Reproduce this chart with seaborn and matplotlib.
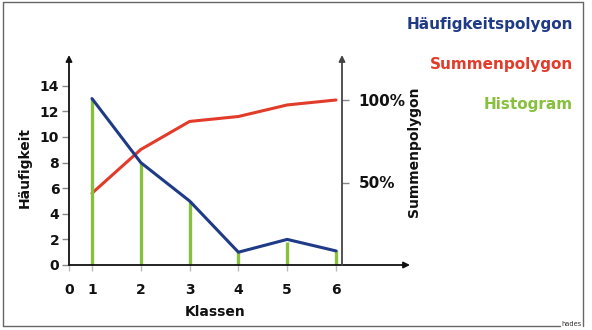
import numpy as np
import pandas as pd
import matplotlib
matplotlib.use("Agg")
import matplotlib.pyplot as plt
from matplotlib.lines import Line2D
import seaborn as sns

# ---- data ----
klassen = [1, 2, 3, 4, 5, 6]
haeufigkeit = [13, 8, 5, 1, 2, 1.1]
histogram = [13, 8, 5, 1, 1.8, 1.2]
summen_pct = [43.5, 70, 87, 90, 97, 100]
x_tick_labels = ["0", "1", "2", "3", "4", "5", "6"]
y_ticks = [0, 2, 4, 6, 8, 10, 12, 14]
pct_ticks = [50, 100]
pct_labels = ["50%", "100%"]

NAVY = "#1f3a86"
RED = "#e23b2a"
GREEN = "#86c03c"

sns.set_theme(style="white")
plt.rcParams["font.family"] = ["DejaVu Sans"]
plt.rcParams["font.weight"] = "bold"

W, H = 592, 330
fig = plt.figure(figsize=(W / 100, H / 100), dpi=100)

def fx(x):
    return x / W

def fy(y):
    return 1 - y / H

# axes in pixel geometry
L, R, T, B = 69, 410, 55, 265
ax = fig.add_axes([fx(L), fy(B), fx(R) - fx(L), fy(T) - fy(B)])
ax.set_facecolor("none")

ppu = 48.8
x_left = 1 - (92 - L) / ppu
x_right = 1 + (R - 92) / ppu
ax.set_xlim(x_left, x_right)
ax.set_ylim(0, (B - T) / 12.8)

df = pd.DataFrame({"k": klassen, "h": haeufigkeit, "s": summen_pct, "hist": histogram})

ax.vlines(df["k"], 0, df["hist"], color=GREEN, lw=2.4, zorder=2)

ax2 = ax.twinx()
ax2.set_ylim(0, (B - T) / 1.65)
sns.lineplot(data=df, x="k", y="s", ax=ax2, color=RED, lw=2.2, zorder=3)
ax2.set_zorder(1)
ax.set_zorder(2)
sns.lineplot(data=df, x="k", y="h", ax=ax, color=NAVY, lw=2.2, zorder=4)

for a in (ax, ax2):
    for s in a.spines.values():
        s.set_visible(False)
    a.set_xlabel("")
    a.set_ylabel("")

FS = 10
# ticks
ax.set_xticks([x_left] + klassen)
ax.set_xticklabels(x_tick_labels, fontsize=FS, fontweight="bold")
ax.set_yticks(y_ticks)
ax.set_yticklabels([str(v) for v in y_ticks], fontsize=FS, fontweight="bold")
ax.tick_params(axis="x", bottom=True, length=4, width=1, color="#bbbbbb", pad=9, labelcolor="#111111")
ax.tick_params(axis="y", left=True, length=5, width=1, color="#888888", pad=2, labelcolor="#111111")
ax.xaxis.get_major_ticks()[0].tick1line.set_color("#222222")

rx = (342 - L) / (R - L)
ax2.set_yticks(pct_ticks)
ax2.set_yticklabels(pct_labels, fontsize=FS, fontweight="bold")
ax2.tick_params(axis="y", right=True, length=5, width=1, color="#888888", pad=7, labelcolor="#111111")
ax2.yaxis.set_ticks_position("right")
ax2.spines["right"].set_position(("axes", rx))

# arrows for axes
arrow_kw = dict(arrowstyle="-|>", mutation_scale=9, lw=1.3, shrinkA=0, shrinkB=0)
ax.annotate("", xy=(0, 1), xytext=(0, 0), xycoords="axes fraction",
            arrowprops=dict(color="#111111", **arrow_kw), annotation_clip=False)
ax.annotate("", xy=(1, 0), xytext=(0, 0), xycoords="axes fraction",
            arrowprops=dict(color="#111111", **arrow_kw), annotation_clip=False)
ax.annotate("", xy=(rx, 1), xytext=(rx, 0), xycoords="axes fraction",
            arrowprops=dict(color="#444444", **arrow_kw), annotation_clip=False)

# axis labels
fig.text(fx(25), fy(168), "Häufigkeit", rotation=90, ha="center", va="center",
         fontsize=FS, fontweight="bold", color="#111111")
fig.text(fx(414), fy(152), "Summenpolygon", rotation=90, ha="center", va="center",
         fontsize=FS, fontweight="bold", color="#111111")
fig.text(fx(215), fy(312), "Klassen", ha="center", va="center",
         fontsize=FS, fontweight="bold", color="#111111")

# legend texts
LFS = 11
fig.text(fx(573), fy(24), "Häufigkeitspolygon", ha="right", va="center",
         fontsize=LFS, fontweight="bold", color=NAVY)
fig.text(fx(573), fy(65), "Summenpolygon", ha="right", va="center",
         fontsize=LFS, fontweight="bold", color=RED)
fig.text(fx(573), fy(105), "Histogram", ha="right", va="center",
         fontsize=LFS, fontweight="bold", color=GREEN)

# frame
fc = "#666666"
for (x0, y0, x1, y1) in [(3, 2, 3, 326), (3, 2, 583, 2), (583, 2, 583, 326), (3, 326, 560, 326)]:
    fig.add_artist(Line2D([fx(x0), fx(x1)], [fy(y0), fy(y1)], transform=fig.transFigure,
                          color=fc, lw=1))
fig.text(fx(561), fy(324), "hades", ha="left", va="center", fontsize=4.8,
         fontweight="normal", color="#333333")

fig.savefig("out.png", dpi=100)
